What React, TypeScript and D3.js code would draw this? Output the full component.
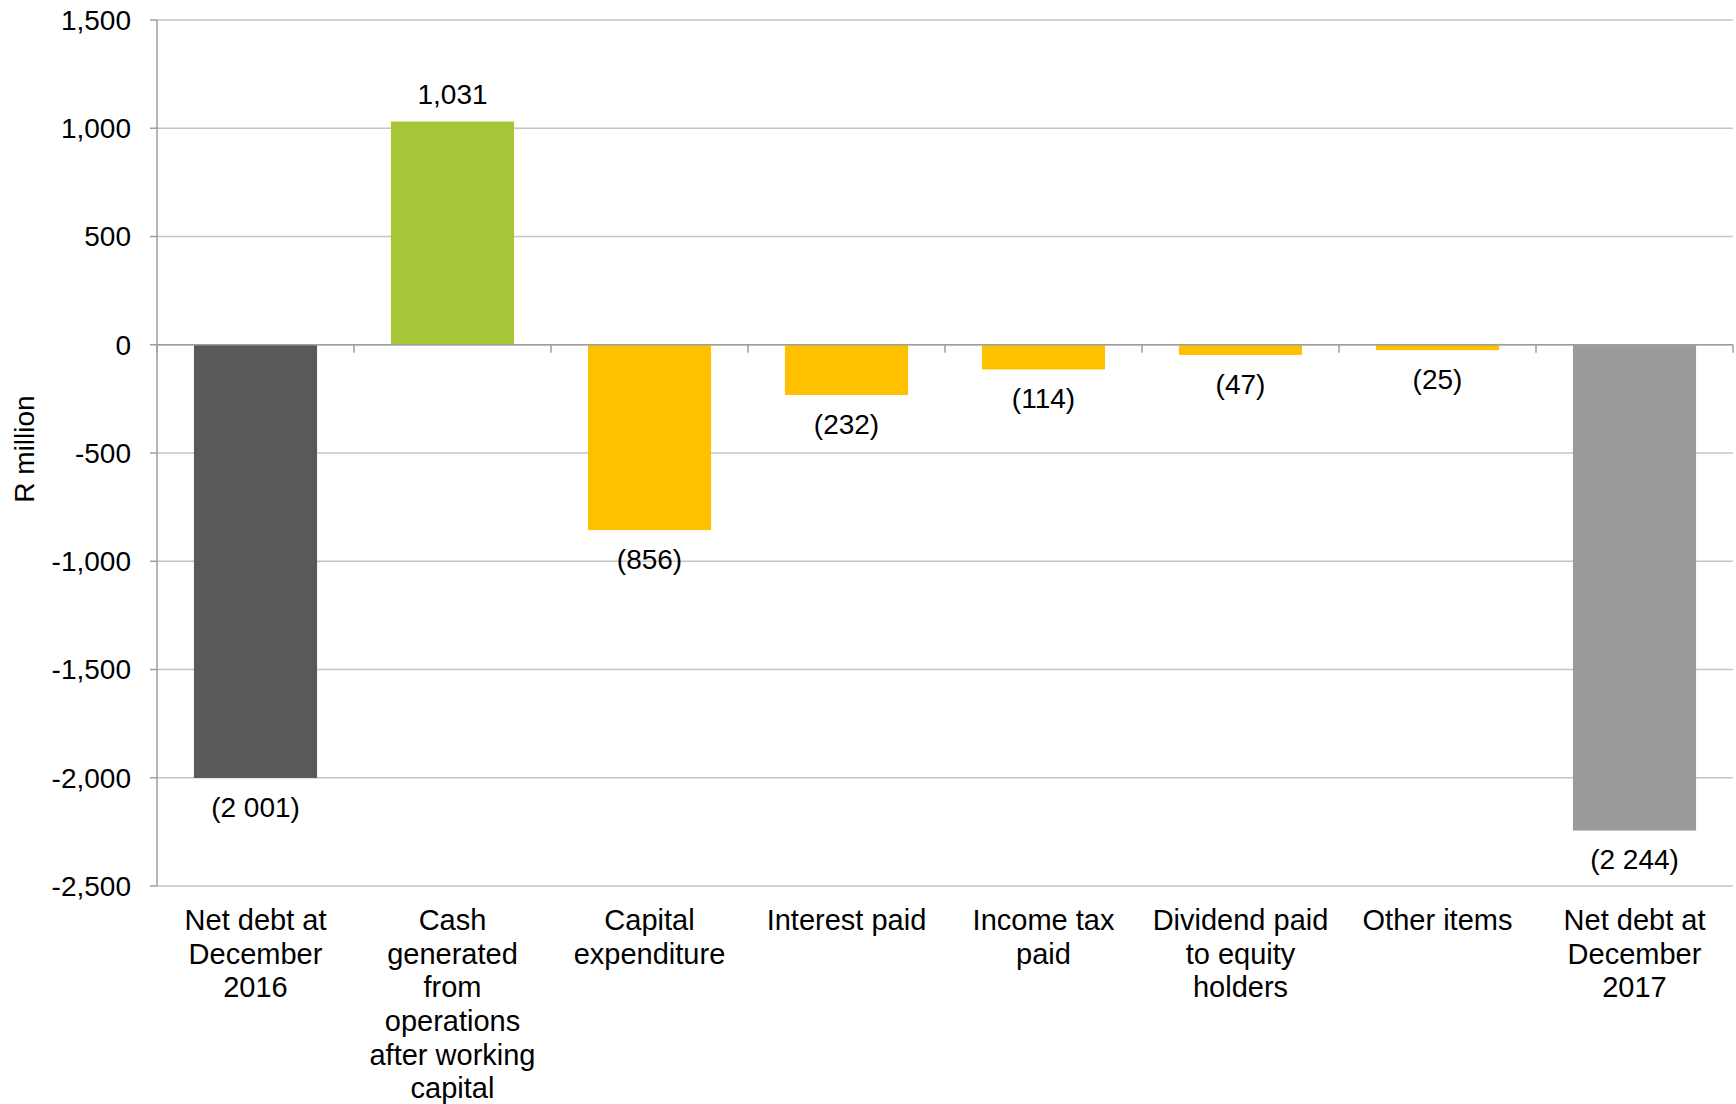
import React from "react";
import * as d3 from "d3";

const categories = [
  "Net debt at\nDecember\n2016",
  "Cash\ngenerated\nfrom\noperations\nafter working\ncapital",
  "Capital\nexpenditure",
  "Interest paid",
  "Income tax\npaid",
  "Dividend paid\nto equity\nholders",
  "Other items",
  "Net debt at\nDecember\n2017",
];
const values = [-2001, 1031, -856, -232, -114, -47, -25, -2244];
const barColors = ["#58595b", "#a6c637", "#ffc000", "#ffc000", "#ffc000", "#ffc000", "#ffc000", "#9a999b"];
const yTicks = [1500, 1000, 500, 0, -500, -1000, -1500, -2000, -2500];

const W = 1736;
const H = 1104;
const M = { left: 157, right: 3, top: 20, bottom: 218 };
const FONT = "'Liberation Sans', Arial, Helvetica, sans-serif";

function fmtValue(v: number): string {
  if (v >= 0) return d3.format(",")(v);
  return "(" + d3.format(",")(-v).replace(/,/g, " ") + ")";
}

export default function App() {
  const x = d3
    .scaleBand<number>()
    .domain(d3.range(categories.length))
    .range([M.left, W - M.right])
    .paddingInner(0.375)
    .paddingOuter(0.1875);
  const y = d3.scaleLinear().domain([-2500, 1500]).range([H - M.bottom, M.top]);
  const step = x.step();
  const boundaries = d3.range(categories.length + 1).map((i) => M.left + i * step);
  const tickFmt = (t: number) => d3.format(",")(t).replace("\u2212", "-");

  return (
    <svg
      width={W}
      height={H}
      style={{ position: "absolute", left: 0, top: 0, background: "#fff" }}
      fontFamily={FONT}
    >
      {/* gridlines */}
      {yTicks.map((t) => (
        <line key={"g" + t} x1={M.left} x2={W - M.right} y1={y(t)} y2={y(t)} stroke="#c4c4c4" strokeWidth={1.5} />
      ))}
      {/* y axis */}
      <line x1={M.left} x2={M.left} y1={y(1500)} y2={y(-2500)} stroke="#9e9e9e" strokeWidth={1.5} />
      {yTicks.map((t) => (
        <g key={"t" + t}>
          <line x1={M.left - 7} x2={M.left} y1={y(t)} y2={y(t)} stroke="#9e9e9e" strokeWidth={1.5} />
          <text x={M.left - 26} y={y(t)} dy="0.35em" textAnchor="end" fontSize={28} fill="#000">
            {tickFmt(t)}
          </text>
        </g>
      ))}
      {/* bars */}
      {values.map((v, i) => (
        <rect
          key={"b" + i}
          x={x(i)}
          width={x.bandwidth()}
          y={Math.min(y(v), y(0))}
          height={Math.abs(y(v) - y(0))}
          fill={barColors[i]}
        />
      ))}
      {/* zero axis with ticks */}
      <line x1={M.left} x2={W - M.right} y1={y(0)} y2={y(0)} stroke="#9e9e9e" strokeWidth={1.5} />
      {boundaries.map((bx, i) => (
        <line key={"c" + i} x1={bx} x2={bx} y1={y(0)} y2={y(0) + 8} stroke="#9e9e9e" strokeWidth={1.5} />
      ))}
      {/* value labels */}
      {values.map((v, i) => {
        const cx = (x(i) as number) + x.bandwidth() / 2;
        const yy = v >= 0 ? y(v) - 27 : y(v) + 29;
        return (
          <text key={"v" + i} x={cx} y={yy} dy="0.35em" textAnchor="middle" fontSize={28} fill="#000">
            {fmtValue(v)}
          </text>
        );
      })}
      {/* category labels */}
      {categories.map((c, i) => {
        const cx = (x(i) as number) + x.bandwidth() / 2;
        return (
          <text key={"l" + i} x={cx} y={y(-2500) + 34} textAnchor="middle" fontSize={29} fill="#000">
            {c.split("\n").map((line, j) => (
              <tspan key={j} x={cx} y={y(-2500) + 34 + j * 33.6} dy="0.35em">
                {line}
              </tspan>
            ))}
          </text>
        );
      })}
      {/* y axis title */}
      <text
        transform={`translate(${24},${(y(1500) + y(-2500)) / 2 - 4}) rotate(-90)`}
        textAnchor="middle"
        dy="0.35em"
        fontSize={28}
        fill="#000"
      >
        R million
      </text>
    </svg>
  );
}
